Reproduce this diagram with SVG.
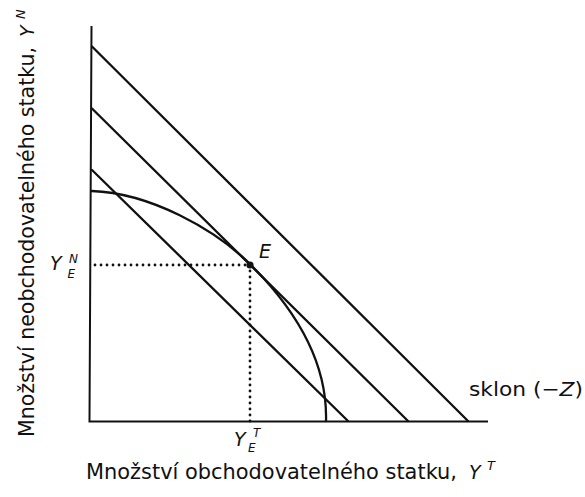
<svg xmlns="http://www.w3.org/2000/svg" width="585" height="497" viewBox="0 0 585 497">
<style>
.ln{fill:none;stroke:#111;stroke-width:2.3;stroke-linecap:round}
.ax{fill:none;stroke:#111;stroke-width:2}
.dot{fill:none;stroke:#111;stroke-width:2.8;stroke-linecap:round;stroke-dasharray:0 6}
.t{font-family:"DejaVu Sans","Liberation Sans",sans-serif;fill:#111}
.i{font-style:italic}
</style>
<rect width="585" height="497" fill="#fff"/>
<g id="axes">
<path class="ax" d="M91.5 26 L89.5 421.5 L488 421.5"/>
</g>
<g id="connectors">
<path class="ln" d="M92 46.5 L468 421"/>
<path class="ln" d="M92 108.5 L408 421"/>
<path class="ln" d="M92 170 L348 421"/>
<path class="ln" d="M91.7 191 C150 193 215 229 251 265 C280 294 328 350 326 421"/>
<path class="dot" d="M95 265 L250 265"/>
<path class="dot" d="M250 265 L250 427"/>
</g>
<g id="E">
<circle cx="250" cy="265" r="3.6" fill="#111"/>
<text class="t i" x="259" y="258" font-size="19">E</text>
</g>
<g id="YEN">
<text class="t i" x="50" y="269.5" font-size="19">Y</text>
<text class="t i" x="69" y="262.5" font-size="12">N</text>
<text class="t i" x="67.5" y="278" font-size="12">E</text>
</g>
<g id="YET">
<text class="t i" x="234" y="445.5" font-size="19">Y</text>
<text class="t i" x="253" y="437" font-size="12">T</text>
<text class="t i" x="248" y="452" font-size="12">E</text>
</g>
<g id="sklon">
<text class="t" x="469" y="396" font-size="20" textLength="114" lengthAdjust="spacingAndGlyphs">sklon (−<tspan class="i">Z</tspan>)</text>
</g>
<g id="xlabel">
<text class="t" x="86" y="479" font-size="20.5" textLength="371" lengthAdjust="spacingAndGlyphs">Množství obchodovatelného statku,</text>
<text class="t i" x="469" y="479" font-size="19">Y</text>
<text class="t i" x="487" y="470" font-size="13">T</text>
</g>
<g id="ylabel" transform="translate(34 437) rotate(-90)">
<text class="t" x="0" y="0" font-size="20.5" textLength="390" lengthAdjust="spacingAndGlyphs">Množství neobchodovatelného statku,</text>
<text class="t i" x="400" y="0" font-size="19">Y</text>
<text class="t i" x="418" y="-9" font-size="13">N</text>
</g>
</svg>
